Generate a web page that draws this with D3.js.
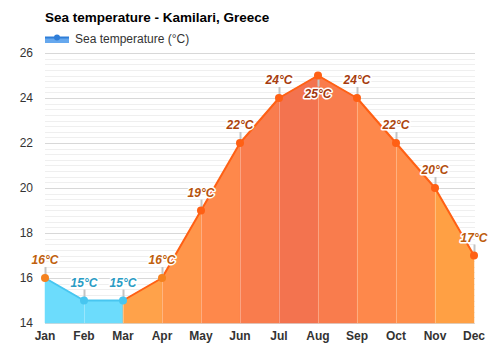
<!DOCTYPE html>
<html>
<head>
<meta charset="utf-8">
<script src="https://cdn.jsdelivr.net/npm/d3@7"></script>
<style>
  html, body { margin: 0; padding: 0; background: #fff; }
  svg { display: block; font-family: "Liberation Sans", Arial, sans-serif; }
</style>
</head>
<body>
<svg id="chart" width="500" height="350"></svg>
<script>
// Monthly mean sea temperature (°C)
const months = ["Jan", "Feb", "Mar", "Apr", "May", "Jun", "Jul", "Aug", "Sep", "Oct", "Nov", "Dec"];
const seaTemp = [16, 15, 15, 16, 19, 22, 24, 25, 24, 22, 20, 17];
const yTicks = [14, 16, 18, 20, 22, 24, 26];

const title = "Sea temperature - Kamilari, Greece";
const legendLabel = "Sea temperature (°C)";

const svg = d3.select("#chart");
const margin = { left: 45, right: 26, top: 53, bottom: 27 };
const W = 500, H = 350;

const x = d3.scalePoint().domain(months).range([margin.left, W - margin.right]);
const y = d3.scaleLinear().domain([14, 26]).range([H - margin.bottom, margin.top]);

// cold water is drawn in blue, warmer water in oranges that deepen with temperature
const coldLimit = 15;
const fillScale = d3.scaleLinear()
  .domain([16, 17, 19, 20, 22, 24, 25])
  .range(["#ffa24a", "#ffa044", "#ff954a", "#ff8e4a", "#fe884b", "#f97c4d", "#f3734f"])
  .clamp(true);
const textScale = d3.scaleLinear().domain([16, 25]).range(["#c0600c", "#a3380e"]).clamp(true);
const coldFill = "#6cdcfc", coldLine = "#48c6f0", coldText = "#2a9cc4";
const warmLine = "#ff6014";

const isCold = v => v <= coldLimit;

// grid: fine lines every quarter degree, stronger lines at labelled ticks
const grid = svg.append("g");
const x0 = margin.left, x1 = W - margin.right + 1;
d3.range(14, 26.001, 0.25).forEach(v => {
  const major = Math.abs(v % 2) < 1e-6;
  grid.append("line")
    .attr("x1", x0).attr("x2", x1)
    .attr("y1", Math.round(y(v)) + 0.5).attr("y2", Math.round(y(v)) + 0.5)
    .attr("stroke", major ? "#d8d8d8" : "#efefef")
    .attr("stroke-width", 1);
});

// area, one slice per month interval, coloured by the temperature reached at its end
const pts = months.map((m, i) => ({ m, i, v: seaTemp[i], x: x(m), y: y(seaTemp[i]) }));
const area = d3.area().x(d => d.x).y0(y(14)).y1(d => d.y);
const areaG = svg.append("g");
for (let i = 0; i < pts.length - 1; i++) {
  const a = pts[i], b = pts[i + 1];
  areaG.append("path")
    .attr("d", area([a, b]))
    .attr("fill", isCold(b.v) ? coldFill : fillScale(b.v))
    .attr("stroke", isCold(b.v) ? coldFill : fillScale(b.v))
    .attr("stroke-width", 0.5);
}

// month separators inside the area
pts.slice(1, -1).forEach(p => {
  areaG.append("line")
    .attr("x1", Math.round(p.x) + 0.5).attr("x2", Math.round(p.x) + 0.5)
    .attr("y1", y(14)).attr("y2", p.y)
    .attr("stroke", "#ffffff").attr("stroke-opacity", 0.3);
});

// line
const lineG = svg.append("g");
for (let i = 0; i < pts.length - 1; i++) {
  const a = pts[i], b = pts[i + 1];
  lineG.append("line")
    .attr("x1", a.x).attr("y1", a.y).attr("x2", b.x).attr("y2", b.y)
    .attr("stroke", isCold(b.v) ? coldLine : warmLine)
    .attr("stroke-width", 2)
    .attr("stroke-linecap", "round");
}

// value labels with leader ticks
const maxV = d3.max(seaTemp);
const labG = svg.append("g");
pts.forEach(p => {
  const below = p.v === maxV;
  const col = isCold(p.v) ? coldText : textScale(p.v);
  labG.append("line")
    .attr("x1", Math.round(p.x) + 0.5).attr("x2", Math.round(p.x) + 0.5)
    .attr("y1", p.y).attr("y2", below ? p.y + 11 : p.y - 11)
    .attr("stroke", "#c4c4c4").attr("stroke-width", 2);
  labG.append("text")
    .attr("x", p.x).attr("y", below ? p.y + 22.5 : p.y - 14)
    .attr("text-anchor", "middle")
    .attr("font-size", 12).attr("font-weight", "bold").attr("font-style", "italic")
    .attr("fill", col)
    .attr("stroke", "#ffffff").attr("stroke-width", 3).attr("stroke-linejoin", "round")
    .attr("paint-order", "stroke")
    .text(p.v + "°C");
});

// points
pts.forEach(p => {
  svg.append("circle")
    .attr("cx", p.x).attr("cy", p.y).attr("r", 4)
    .attr("fill", isCold(p.v) ? coldLine : (p.i === 0 || p.i === 3 ? "#f5821f" : warmLine));
});

// axes
const yAxis = svg.append("g");
yTicks.forEach(t => {
  yAxis.append("text")
    .attr("x", 33).attr("y", y(t)).attr("dy", "0.35em")
    .attr("text-anchor", "end")
    .attr("font-size", 12).attr("fill", "#333")
    .text(t);
});
const xAxis = svg.append("g");
months.forEach(m => {
  xAxis.append("text")
    .attr("x", x(m)).attr("y", 340)
    .attr("text-anchor", "middle")
    .attr("font-size", 12).attr("font-weight", "bold").attr("fill", "#333")
    .text(m);
});

// title and legend
svg.append("text")
  .attr("x", 45).attr("y", 22)
  .attr("font-size", 13.5).attr("font-weight", "bold").attr("fill", "#000")
  .text(title);

const lg = svg.append("g");
lg.append("rect").attr("x", 45).attr("y", 37).attr("width", 24).attr("height", 6).attr("fill", "#66a8ee");
lg.append("line").attr("x1", 45).attr("x2", 69).attr("y1", 37.5).attr("y2", 37.5).attr("stroke", "#2f7ed8").attr("stroke-width", 2);
lg.append("circle").attr("cx", 57).attr("cy", 37.5).attr("r", 3).attr("fill", "#2f7ed8");
lg.append("text").attr("x", 75).attr("y", 43)
  .attr("font-size", 12).attr("fill", "#333")
  .text(legendLabel);
</script>
</body>
</html>
